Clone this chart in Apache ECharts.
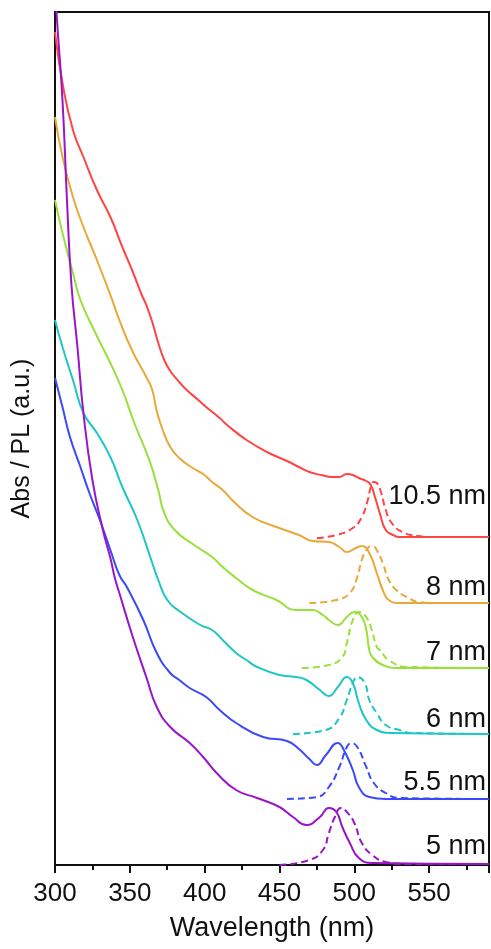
<!DOCTYPE html>
<html>
<head>
<meta charset="utf-8">
<script src="https://cdn.jsdelivr.net/npm/echarts@6/dist/echarts.min.js"></script>
<style>
  html, body { margin: 0; padding: 0; background: #fff; }
  #chart { width: 491px; height: 949px; }
</style>
</head>
<body>
<div id="chart"></div>
<script>
// Wavelength axis ticks (nm)
const xMin = 300, xMax = 590, xStep = 50;

// Nanocrystal sizes, one spectrum pair per size
const sizeLabels = ['10.5 nm', '8 nm', '7 nm', '6 nm', '5.5 nm', '5 nm'];
const labelHeights = [3.68, 2.77, 2.12, 1.45, 0.82, 0.18];
const colors = ['#ff4444', '#e9a83a', '#98e03a', '#1fc6c6', '#3b4af7', '#9a14c8'];

// Absorption (solid) spectra, stacked with offsets: [nm, a.u.]
const abs10_5 = [[300,8.33],[305,7.82],[312,7.35],[319,7.08],[328,6.75],[337,6.48],[345,6.18],[352,5.93],[358,5.70],[361,5.60],[365,5.43],[369,5.22],[373,5.05],[377,4.94],[383,4.83],[388,4.75],[395,4.66],[401,4.58],[410,4.47],[415,4.40],[428,4.25],[443,4.12],[455,4.04],[463,3.98],[470,3.93],[478,3.90],[485,3.88],[490,3.88],[495,3.91],[499,3.90],[503,3.87],[508,3.84],[511,3.80],[514,3.67],[517,3.52],[521,3.35],[526,3.30],[530,3.28],[590,3.28]];
const abs8 = [[300,7.48],[305,7.08],[312,6.68],[319,6.38],[328,6.05],[337,5.70],[343,5.45],[352,5.13],[361,4.88],[365,4.75],[368,4.54],[372,4.35],[377,4.18],[383,4.07],[392,3.97],[399,3.91],[405,3.83],[412,3.75],[419,3.64],[432,3.48],[448,3.38],[463,3.30],[472,3.24],[483,3.23],[490,3.18],[495,3.13],[501,3.17],[505,3.19],[510,3.12],[515,2.92],[519,2.75],[523,2.65],[530,2.62],[590,2.62]];
const abs7 = [[300,6.65],[305,6.32],[312,5.92],[317,5.65],[327,5.32],[336,5.05],[345,4.75],[353,4.42],[363,4.05],[369,3.75],[373,3.52],[380,3.35],[391,3.22],[405,3.08],[412,2.98],[421,2.87],[432,2.75],[448,2.65],[461,2.55],[472,2.55],[479,2.50],[483,2.45],[489,2.40],[495,2.48],[500,2.53],[505,2.48],[508,2.35],[510,2.15],[512,2.08],[519,2.00],[530,1.97],[590,1.97]];
const abs6 = [[300,5.45],[305,5.18],[312,4.85],[319,4.52],[328,4.32],[337,4.08],[345,3.78],[355,3.45],[365,3.02],[369,2.85],[375,2.65],[383,2.54],[397,2.40],[405,2.35],[412,2.25],[421,2.12],[428,2.05],[435,1.98],[450,1.90],[461,1.88],[468,1.85],[477,1.75],[483,1.69],[489,1.78],[495,1.88],[499,1.82],[503,1.62],[508,1.45],[515,1.35],[525,1.32],[590,1.31]];
const abs5_5 = [[300,4.87],[305,4.58],[310,4.28],[317,3.98],[323,3.72],[330,3.45],[337,3.15],[343,2.90],[348,2.78],[359,2.45],[368,2.12],[377,1.92],[383,1.85],[390,1.77],[401,1.68],[410,1.55],[421,1.42],[439,1.28],[455,1.24],[463,1.16],[470,1.06],[475,1.00],[481,1.10],[489,1.22],[493,1.15],[499,0.95],[503,0.78],[510,0.68],[521,0.66],[590,0.66]];
const abs5 = [[300,8.87],[301,8.53],[305,7.65],[308,6.65],[311,5.80],[315,5.18],[319,4.52],[325,3.85],[332,3.35],[337,3.07],[340,2.87],[343,2.72],[352,2.28],[361,1.88],[368,1.58],[377,1.38],[390,1.22],[399,1.08],[408,0.92],[421,0.75],[435,0.67],[450,0.58],[459,0.48],[468,0.40],[477,0.48],[483,0.57],[488,0.53],[492,0.38],[497,0.22],[503,0.07],[512,0.02],[590,0.01]];

// Photoluminescence (dashed) spectra: [nm, a.u.]
const pl10_5 = [[475,3.27],[488,3.30],[499,3.37],[505,3.48],[509,3.65],[511,3.78],[513,3.83],[515,3.82],[518,3.72],[521,3.55],[525,3.42],[532,3.33],[543,3.29],[552,3.28],[590,3.28]];
const pl8 = [[470,2.62],[488,2.65],[497,2.72],[502,2.88],[505,3.05],[509,3.17],[512,3.19],[515,3.15],[519,3.02],[523,2.85],[528,2.75],[535,2.68],[543,2.63],[552,2.62],[590,2.62]];
const pl7 = [[465,1.97],[483,2.00],[492,2.08],[495,2.22],[499,2.45],[503,2.53],[507,2.50],[511,2.38],[515,2.18],[517,2.15],[523,2.05],[535,1.98],[590,1.97]];
const pl6 = [[459,1.31],[481,1.35],[490,1.47],[495,1.65],[499,1.82],[502,1.88],[507,1.82],[510,1.65],[515,1.52],[521,1.40],[530,1.35],[539,1.32],[590,1.31]];
const pl5_5 = [[455,0.66],[475,0.68],[483,0.78],[490,0.98],[495,1.18],[498,1.22],[502,1.18],[508,0.98],[513,0.82],[521,0.72],[530,0.67],[590,0.66]];
const pl5 = [[450,0.00],[470,0.05],[479,0.15],[483,0.32],[487,0.48],[491,0.57],[495,0.53],[500,0.42],[505,0.22],[512,0.10],[521,0.03],[535,0.01],[590,0.01]];

const absSets = [abs10_5, abs8, abs7, abs6, abs5_5, abs5];
const plSets = [pl10_5, pl8, pl7, pl6, pl5_5, pl5];

const FONT = 'Liberation Sans, Arial, sans-serif';
const series = [];
sizeLabels.forEach((name, i) => {
  series.push({
    name: name + ' Abs', type: 'line', data: absSets[i], showSymbol: false,
    smooth: 0.5, clip: true,
    lineStyle: { color: colors[i], width: 2 }
  });
  series.push({
    name: name + ' PL', type: 'line', data: plSets[i], showSymbol: false,
    smooth: 0.5, clip: true,
    lineStyle: { color: colors[i], width: 2, type: [7, 4] },
    markPoint: {
      symbol: 'circle', symbolSize: 0, silent: true,
      data: [{ coord: [588, labelHeights[i]], value: name }],
      label: { show: true, position: 'left', distance: 0, formatter: name,
               color: '#111', fontSize: 27, fontFamily: FONT }
    }
  });
});

const chart = echarts.init(document.getElementById('chart'), null, { renderer: 'canvas' });
chart.setOption({
  animation: false,
  backgroundColor: '#fff',
  grid: { left: 55, right: 2, top: 12, bottom: 84, show: true, borderColor: '#111', borderWidth: 2, backgroundColor: 'transparent' },
  xAxis: {
    type: 'value', min: xMin, max: xMax, interval: xStep,
    name: 'Wavelength (nm)', nameLocation: 'middle', nameGap: 50,
    nameTextStyle: { fontSize: 27, color: '#111', fontFamily: FONT },
    axisLine: { show: true, onZero: false, lineStyle: { color: '#111', width: 2 } },
    axisTick: { show: true, inside: false, length: 8, lineStyle: { color: '#111', width: 2 } },
    minorTick: { show: true, splitNumber: 2, length: 5, lineStyle: { color: '#111', width: 2 } },
    axisLabel: { fontSize: 26, color: '#111', margin: 16, fontFamily: FONT,
                 showMaxLabel: false },
    splitLine: { show: false }
  },
  yAxis: {
    type: 'value', min: 0, max: 8.53,
    name: 'Abs / PL (a.u.)', nameLocation: 'middle', nameGap: 20, nameRotate: 90,
    nameTextStyle: { fontSize: 25, color: '#111', fontFamily: FONT },
    axisLine: { show: true, lineStyle: { color: '#111', width: 2 } },
    axisTick: { show: false }, axisLabel: { show: false }, splitLine: { show: false }
  },
  series: series
});
</script>
</body>
</html>
